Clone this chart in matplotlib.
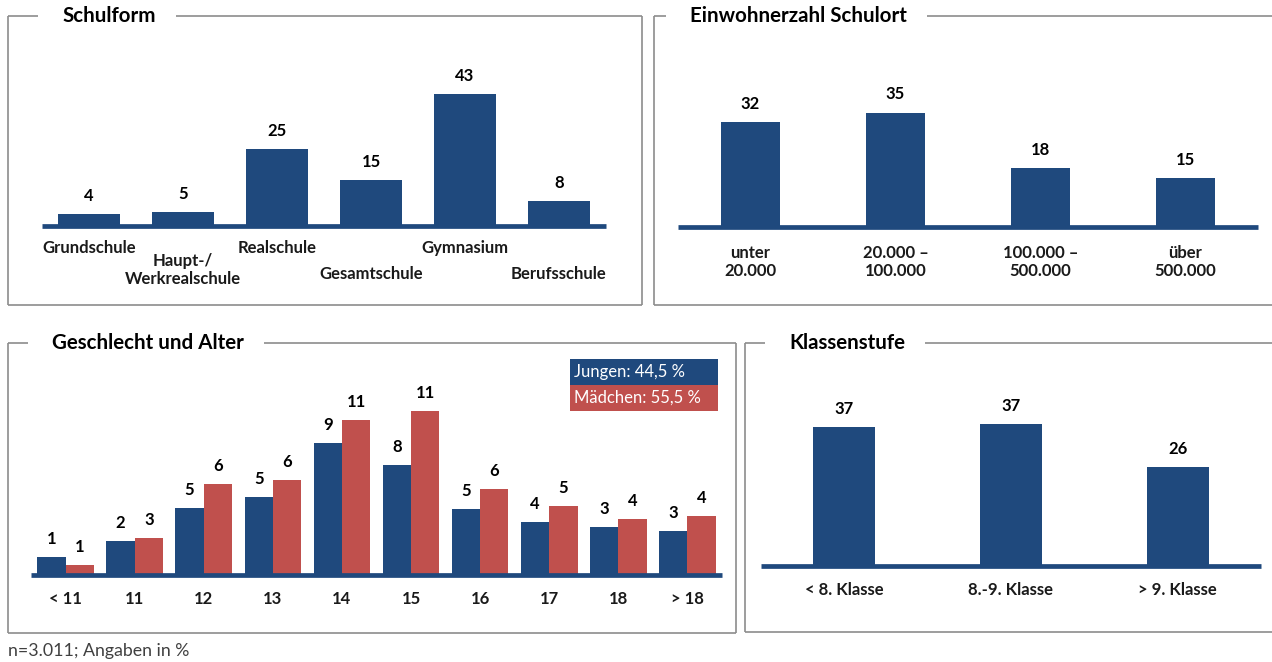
import matplotlib
matplotlib.use("Agg")
import matplotlib.pyplot as plt
from matplotlib.lines import Line2D
from matplotlib.patches import Rectangle
from matplotlib.transforms import blended_transform_factory

# ---------------- data ----------------
schulform_cats = ["Grundschule", "Haupt-/\nWerkrealschule", "Realschule", "Gesamtschule", "Gymnasium", "Berufsschule"]
schulform_vals = [4, 4.6, 25, 15, 43, 8]
schulform_lbls = ["4", "5", "25", "15", "43", "8"]

einw_cats = ["unter\n20.000", "20.000 –\n100.000", "100.000 –\n500.000", "über\n500.000"]
einw_vals = [32, 35, 18, 15]
einw_lbls = ["32", "35", "18", "15"]

alter_cats = ["< 11", "11", "12", "13", "14", "15", "16", "17", "18", "> 18"]
jungen_vals = [1.2, 2.3, 4.6, 5.3, 9.0, 7.5, 4.5, 3.6, 3.3, 3.0]
maedchen_vals = [0.7, 2.5, 6.2, 6.5, 10.6, 11.2, 5.9, 4.7, 3.8, 4.0]
jungen_lbls = ["1", "2", "5", "5", "9", "8", "5", "4", "3", "3"]
maedchen_lbls = ["1", "3", "6", "6", "11", "11", "6", "5", "4", "4"]
legend_labels = ["Jungen: 44,5 %", "Mädchen: 55,5 %"]

klasse_cats = ["< 8. Klasse", "8.-9. Klasse", "> 9. Klasse"]
klasse_vals = [36.6, 37.4, 26.0]
klasse_lbls = ["37", "37", "26"]

titles = ["Schulform", "Einwohnerzahl Schulort", "Geschlecht und Alter", "Klassenstufe"]
footnote = "n=3.011; Angaben in %"

# ---------------- style ----------------
BLUE = "#1F497D"
RED = "#C0504D"
FRAME = "#8C8C8C"
FONT = "Lato"
plt.rcParams["font.family"] = [FONT, "DejaVu Sans"]

W, H = 1272, 662
fig = plt.figure(figsize=(W / 100, H / 100), dpi=100)


def fx(px):
    return px / W


def fy(py):
    return 1 - py / H


def axes_px(x0, x1, ytop, ybot):
    ax = fig.add_axes([fx(x0), fy(ybot), fx(x1 - x0), (ybot - ytop) / H])
    ax.axis("off")
    return ax


def baseline(ax):
    ax.axhline(0, color=BLUE, lw=3.4, zorder=5, solid_capstyle="butt", clip_on=False)


def value_label(ax, x, h, txt):
    ax.annotate(txt, (x, h), xytext=(0, 13), textcoords="offset points",
                ha="center", va="center", fontsize=12, fontweight="bold", color="black")


def cat_labels(ax, xs, labels, ys):
    tr = blended_transform_factory(ax.transData, fig.transFigure)
    for x, lab, y in zip(xs, labels, ys):
        ax.text(x, fy(y), lab, transform=tr, ha="center", va="center",
                fontsize=12, fontweight="bold", linespacing=1.2, color="#1a1a1a")


# Panel 1: Schulform
ax1 = axes_px(42, 606, 66, 226)
n = len(schulform_cats)
ax1.set_xlim(-0.5, n - 0.5)
ax1.set_ylim(0, 160 / 3.08)
ax1.bar(range(n), schulform_vals, width=0.67, color=BLUE, zorder=3)
baseline(ax1)
for i, (v, t) in enumerate(zip(schulform_vals, schulform_lbls)):
    value_label(ax1, i, v, t)
cat_labels(ax1, range(n), schulform_cats, [248, 270, 248, 274, 248, 274])

# Panel 2: Einwohnerzahl
ax2 = axes_px(678, 1258, 67, 227)
n = len(einw_cats)
ax2.set_xlim(-0.5, n - 0.5)
ax2.set_ylim(0, 160 / 3.27)
ax2.bar(range(n), einw_vals, width=0.41, color=BLUE, zorder=3)
baseline(ax2)
for i, (v, t) in enumerate(zip(einw_vals, einw_lbls)):
    value_label(ax2, i, v, t)
cat_labels(ax2, range(n), einw_cats, [262] * n)

# Panel 3: Geschlecht und Alter
ax3 = axes_px(31, 722, 395, 575)
n = len(alter_cats)
ax3.set_xlim(-0.5, n - 0.5)
ax3.set_ylim(0, 180 / 14.65)
bw = 0.41
xs = list(range(n))
ax3.bar([x - bw / 2 for x in xs], jungen_vals, width=bw, color=BLUE, zorder=3)
ax3.bar([x + bw / 2 for x in xs], maedchen_vals, width=bw, color=RED, zorder=3)
baseline(ax3)
for x, v, t in zip(xs, jungen_vals, jungen_lbls):
    value_label(ax3, x - bw / 2, v, t)
for x, v, t in zip(xs, maedchen_vals, maedchen_lbls):
    value_label(ax3, x + bw / 2, v, t)
cat_labels(ax3, xs, alter_cats, [599] * n)

# legend boxes
for (y0, col, lab) in [(359, BLUE, legend_labels[0]), (385, RED, legend_labels[1])]:
    fig.add_artist(Rectangle((fx(570), fy(y0 + 26)), fx(148), 26 / H,
                             transform=fig.transFigure, facecolor=col, edgecolor="none"))
    fig.text(fx(574), fy(y0 + 13), lab, ha="left", va="center", color="white", fontsize=12)

# Panel 4: Klassenstufe
ax4 = axes_px(761, 1261, 396, 566)
n = len(klasse_cats)
ax4.set_xlim(-0.5, n - 0.5)
ax4.set_ylim(0, 170 / 3.8)
ax4.bar(range(n), klasse_vals, width=0.37, color=BLUE, zorder=3)
baseline(ax4)
for i, (v, t) in enumerate(zip(klasse_vals, klasse_lbls)):
    value_label(ax4, i, v, t)
cat_labels(ax4, range(n), klasse_cats, [590] * n)

# ---------------- frames with titles ----------------
frames = [  # left, right, top, bottom, title x
    (8, 642, 16, 305, 62),
    (654, 1275, 16, 305, 690),
    (8, 736, 343, 633, 52),
    (745, 1275, 343, 632, 789),
]
fig.canvas.draw()
renderer = fig.canvas.get_renderer()


def seg(x0, y0, x1, y1):
    fig.add_artist(Line2D([fx(x0), fx(x1)], [fy(y0), fy(y1)], transform=fig.transFigure,
                          color=FRAME, lw=1.2, solid_capstyle="butt"))


for (l, r, t, b, tx), title in zip(frames, titles):
    txt = fig.text(fx(tx), fy(t), title, ha="left", va="center", fontsize=14.8,
                   fontweight="bold", color="black")
    ext = txt.get_window_extent(renderer)
    tw = ext.width
    seg(l, t, tx - 24, t)
    seg(tx + tw + 20, t, r, t)
    seg(l, t, l, b)
    seg(r, t, r, b)
    seg(l, b, r, b)

fig.text(fx(8), fy(651), footnote, ha="left", va="center", fontsize=12.8, color="#404040")

fig.savefig("out.png", dpi=100, facecolor="white")
